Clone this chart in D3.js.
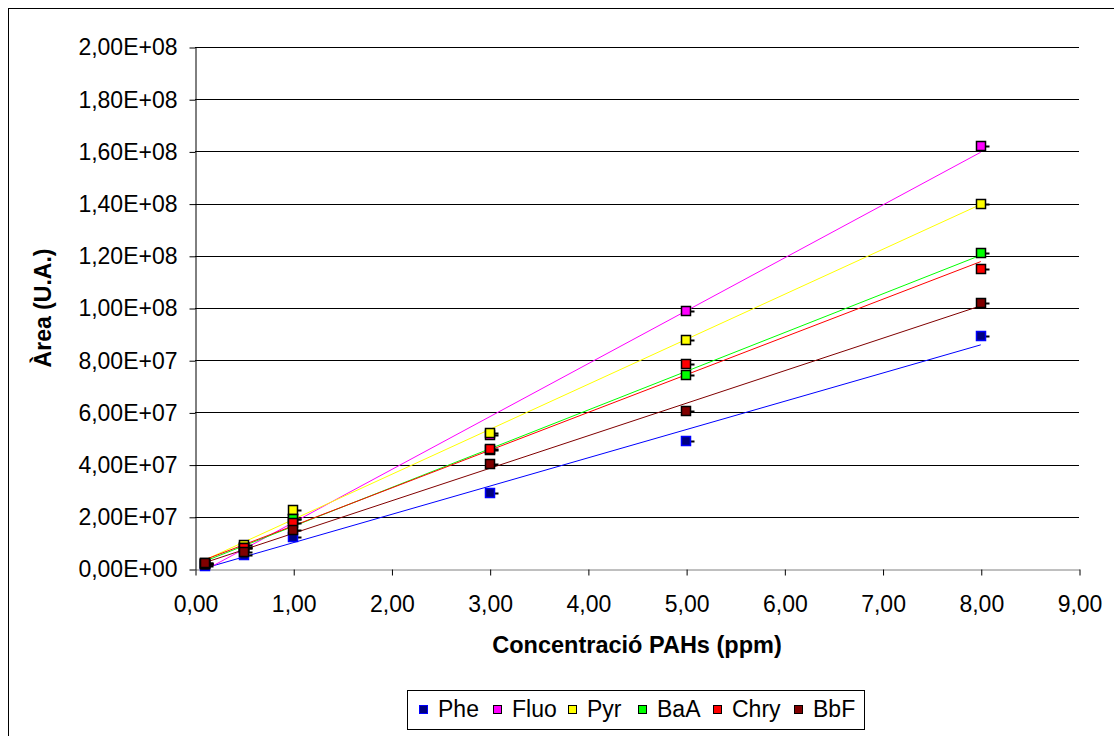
<!DOCTYPE html>
<html>
<head>
<meta charset="utf-8">
<script src="https://cdn.jsdelivr.net/npm/d3@7"></script>
<style>
  body { margin: 0; background: #fff; }
  svg { font-family: "Liberation Sans", Arial, sans-serif; }
</style>
</head>
<body>
<div id="viz"></div>
<script>
"use strict";

const w = 1114;
const h = 736;

// concentrations (ppm)
const conc = [0.1, 0.5, 1, 3, 5, 8];

const phe  = [1.2e6, 5.2e6, 1.23e7, 2.91e7, 4.90e7, 8.93e7];
const fluo = [2.0e6, 8.5e6, 1.90e7, 5.15e7, 9.89e7, 1.62e8];
const pyr  = [2.3e6, 9.2e6, 2.26e7, 5.21e7, 8.77e7, 1.40e8];
const baa  = [2.0e6, 8.2e6, 1.92e7, 4.55e7, 7.43e7, 1.21e8];
const chry = [2.0e6, 8.0e6, 1.76e7, 4.60e7, 7.85e7, 1.15e8];
const bbf  = [2.3e6, 6.5e6, 1.49e7, 4.02e7, 6.05e7, 1.02e8];

const names = ["Phe", "Fluo", "Pyr", "BaA", "Chry", "BbF"];
const lineColors = ["#0000ff", "#ff00ff", "#ffff00", "#00ff00", "#ff0000", "#800000"];
const fillColors = ["#000080", "#ff00ff", "#ffff00", "#00ff00", "#ff0000", "#800000"];
const edgeColors = ["#0000ff", "#000", "#000", "#000", "#000", "#000"];

const xTicks = d3.range(0, 10, 1);
const yTicks = d3.range(0, 2.01e8, 2e7);

const series = [phe, fluo, pyr, baa, chry, bbf].map((vals, i) => ({
  name: names[i], vals: vals, line: lineColors[i], fill: fillColors[i], edge: edgeColors[i]
}));

const pLeft = 195, pRight = 1079, pTop = 47, pBottom = 569;
const fs = 23;

const x = d3.scaleLinear().domain([0, 9]).range([pLeft, pRight]);
const y = d3.scaleLinear().domain([0, 2e8]).range([pBottom, pTop]);

const svg = d3.select("#viz").append("svg")
  .attr("width", w)
  .attr("height", h);

svg.append("rect")
  .attr("x", 8.5).attr("y", 8.5)
  .attr("width", 1110).attr("height", 740)
  .attr("fill", "#fff").attr("stroke", "#000").attr("stroke-width", 1);

const fmtY = v => {
  if (v === 0) return "0,00E+00";
  const e = Math.floor(Math.log10(v));
  const m = (v / Math.pow(10, e)).toFixed(2).replace(".", ",");
  return m + "E+" + String(e).padStart(2, "0");
};
const fmtX = v => v.toFixed(2).replace(".", ",");

// gridlines
svg.append("g")
  .selectAll("line")
  .data(yTicks.filter(d => d > 0))
  .join("line")
  .attr("x1", pLeft).attr("x2", pRight)
  .attr("y1", d => Math.round(y(d)) + 0.5).attr("y2", d => Math.round(y(d)) + 0.5)
  .attr("stroke", "#000").attr("stroke-width", 1);

// y axis
const yAxis = svg.append("g")
  .attr("transform", `translate(${pLeft + 0.5},0.5)`)
  .call(d3.axisLeft(y).tickValues(yTicks).tickFormat(fmtY).tickSizeInner(6).tickSizeOuter(0).tickPadding(12));
yAxis.select(".domain").attr("stroke", "#000");
yAxis.selectAll("text").attr("font-size", fs).attr("fill", "#000")
  .attr("font-family", "Liberation Sans, Arial, sans-serif");

// x axis
const xAxis = svg.append("g")
  .attr("transform", `translate(0.5,${pBottom + 0.5})`)
  .call(d3.axisBottom(x).tickValues(xTicks).tickFormat(fmtX).tickSizeInner(6).tickSizeOuter(0).tickPadding(20));
xAxis.select(".domain").attr("stroke", "#808080");
xAxis.selectAll("text").attr("font-size", fs).attr("fill", "#000")
  .attr("font-family", "Liberation Sans, Arial, sans-serif");

// trend lines (least squares over each series)
function fit(vals) {
  const mx = d3.mean(conc), my = d3.mean(vals);
  let sxy = 0, sxx = 0;
  conc.forEach((c, i) => { sxy += (c - mx) * (vals[i] - my); sxx += (c - mx) * (c - mx); });
  const b = sxy / sxx;
  return { b: b, a: my - b * mx };
}

const x0 = d3.min(conc), x1 = d3.max(conc);
svg.append("g")
  .selectAll("line")
  .data(series)
  .join("line")
  .each(function(s) {
    const f = fit(s.vals);
    d3.select(this)
      .attr("x1", x(x0)).attr("y1", y(f.a + f.b * x0))
      .attr("x2", x(x1)).attr("y2", y(f.a + f.b * x1));
  })
  .attr("stroke", s => s.line).attr("stroke-width", 1);

// markers
const ms = 9;
series.forEach(s => {
  const g = svg.append("g");
  g.selectAll("line")
    .data(s.vals)
    .join("line")
    .attr("x1", (d, i) => Math.round(x(conc[i])) + ms / 2)
    .attr("x2", (d, i) => Math.round(x(conc[i])) + ms / 2 + 4)
    .attr("y1", d => Math.round(y(d)) + 0.5)
    .attr("y2", d => Math.round(y(d)) + 0.5)
    .attr("stroke", "#000").attr("stroke-width", 2);
  g.selectAll("rect")
    .data(s.vals)
    .join("rect")
    .attr("x", (d, i) => Math.round(x(conc[i])) - ms / 2)
    .attr("y", d => Math.round(y(d)) - ms / 2)
    .attr("width", ms).attr("height", ms)
    .attr("fill", s.fill)
    .attr("stroke", s.edge).attr("stroke-width", 1.5);
});

// axis titles
svg.append("text")
  .attr("x", (pLeft + pRight) / 2).attr("y", 653)
  .attr("text-anchor", "middle")
  .attr("font-size", fs + 0.5).attr("font-weight", "bold")
  .text("Concentració PAHs (ppm)");

svg.append("text")
  .attr("transform", `translate(51,${(pTop + pBottom) / 2}) rotate(-90)`)
  .attr("text-anchor", "middle")
  .attr("font-size", fs).attr("font-weight", "bold")
  .text("Àrea (U.A.)");

// legend
const legend = svg.append("g");
legend.append("rect")
  .attr("x", 407.5).attr("y", 690.5)
  .attr("width", 457).attr("height", 39)
  .attr("fill", "#fff").attr("stroke", "#000").attr("stroke-width", 1);

const legX = [423, 497, 572, 642, 717, 798];
const item = legend.selectAll("g.item")
  .data(series)
  .join("g")
  .attr("class", "item")
  .attr("transform", (s, i) => `translate(${legX[i]},709)`);
item.append("rect")
  .attr("x", -3.5).attr("y", -3.5)
  .attr("width", 8).attr("height", 8)
  .attr("fill", s => s.fill)
  .attr("stroke", s => s.edge).attr("stroke-width", 1);
item.append("text")
  .attr("x", 15).attr("y", 8)
  .attr("font-size", fs)
  .text(s => s.name);
</script>
</body>
</html>
